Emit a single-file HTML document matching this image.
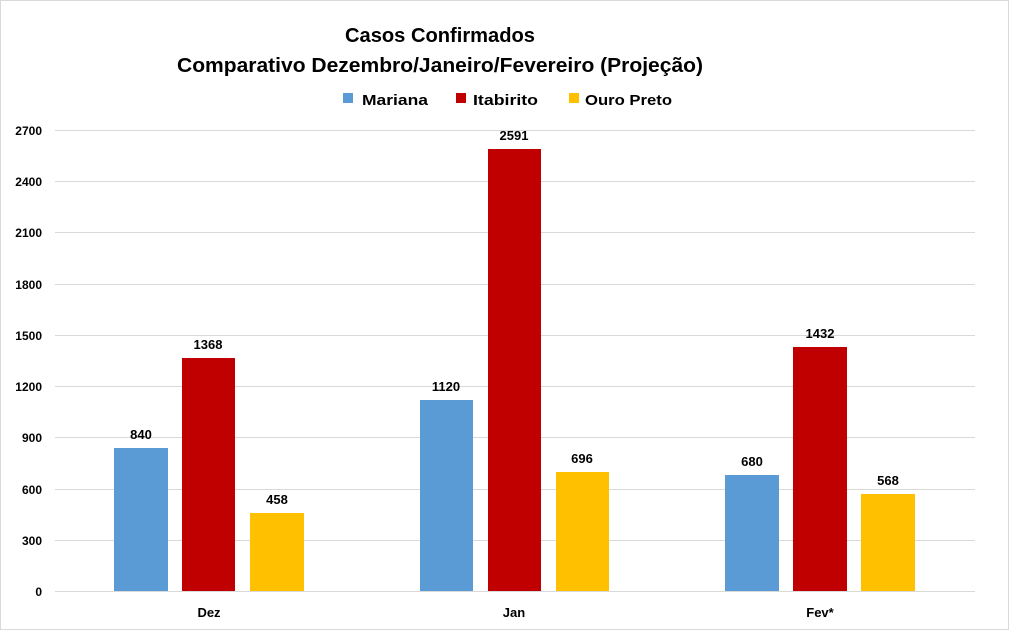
<!DOCTYPE html>
<html><head><style>body{margin:0;background:#fff}svg{display:block}</style></head><body>
<svg width="1013" height="630" xmlns="http://www.w3.org/2000/svg" font-family="Liberation Sans, sans-serif">
<rect x="0" y="0" width="1013" height="630" fill="#fff"/>
<rect x="0.5" y="0.5" width="1008" height="629" fill="none" stroke="#d9d9d9"/>
<text x="440" y="42" text-anchor="middle" font-size="20" font-weight="bold" textLength="190" lengthAdjust="spacingAndGlyphs" fill="#000">Casos Confirmados</text>
<text x="440" y="72" text-anchor="middle" font-size="20" font-weight="bold" textLength="526" lengthAdjust="spacingAndGlyphs" fill="#000">Comparativo Dezembro/Janeiro/Fevereiro (Projeção)</text>
<g font-size="15" font-weight="bold" fill="#000">
<rect x="343" y="93" width="10" height="10" fill="#5B9BD5"/><text x="362" y="105" textLength="66" lengthAdjust="spacingAndGlyphs">Mariana</text>
<rect x="456" y="93" width="10" height="10" fill="#C00000"/><text x="473" y="105" textLength="65" lengthAdjust="spacingAndGlyphs">Itabirito</text>
<rect x="569" y="93" width="10" height="10" fill="#FFC000"/><text x="585" y="105" textLength="87" lengthAdjust="spacingAndGlyphs">Ouro Preto</text>
</g>
<g stroke="#d9d9d9" stroke-width="1">
<line x1="55" x2="975" y1="130.5" y2="130.5"/><line x1="55" x2="975" y1="181.5" y2="181.5"/>
<line x1="55" x2="975" y1="232.5" y2="232.5"/><line x1="55" x2="975" y1="284.5" y2="284.5"/>
<line x1="55" x2="975" y1="335.5" y2="335.5"/><line x1="55" x2="975" y1="386.5" y2="386.5"/>
<line x1="55" x2="975" y1="437.5" y2="437.5"/><line x1="55" x2="975" y1="489.5" y2="489.5"/>
<line x1="55" x2="975" y1="540.5" y2="540.5"/><line x1="55" x2="975" y1="591.5" y2="591.5"/>
</g>
<g font-size="12" font-weight="bold" text-anchor="end" fill="#000">
<text x="42" y="135">2700</text><text x="42" y="186">2400</text><text x="42" y="237">2100</text>
<text x="42" y="289">1800</text><text x="42" y="340">1500</text><text x="42" y="391">1200</text>
<text x="42" y="442">900</text><text x="42" y="494">600</text><text x="42" y="545">300</text><text x="42" y="596">0</text>
</g>
<g>
<rect x="114" y="448" width="54" height="143" fill="#5B9BD5"/>
<rect x="182" y="358" width="53" height="233" fill="#C00000"/>
<rect x="250" y="513" width="54" height="78" fill="#FFC000"/>
<rect x="420" y="400" width="53" height="191" fill="#5B9BD5"/>
<rect x="488" y="149" width="53" height="442" fill="#C00000"/>
<rect x="556" y="472" width="53" height="119" fill="#FFC000"/>
<rect x="725" y="475" width="54" height="116" fill="#5B9BD5"/>
<rect x="793" y="347" width="54" height="244" fill="#C00000"/>
<rect x="861" y="494" width="54" height="97" fill="#FFC000"/>
</g>
<g font-size="13" font-weight="bold" text-anchor="middle" fill="#000">
<text x="141" y="439">840</text><text x="208" y="349">1368</text><text x="277" y="504">458</text>
<text x="446" y="391">1120</text><text x="514" y="140">2591</text><text x="582" y="463">696</text>
<text x="752" y="466">680</text><text x="820" y="338">1432</text><text x="888" y="485">568</text>
<text x="209" y="617">Dez</text><text x="514" y="617">Jan</text><text x="820" y="617">Fev*</text>
</g>
</svg>
</body></html>
